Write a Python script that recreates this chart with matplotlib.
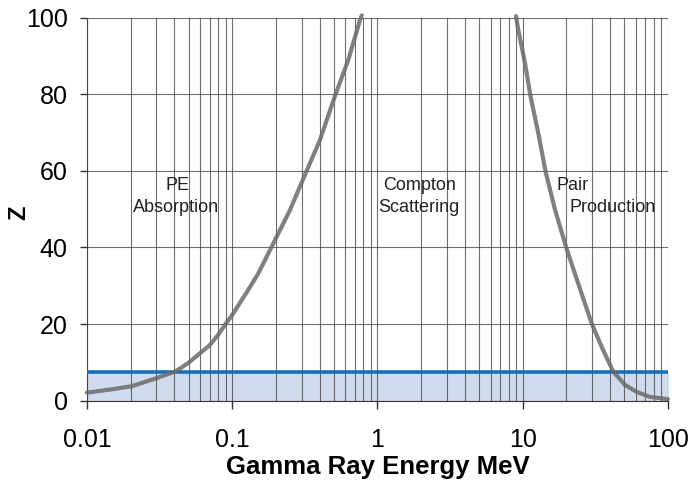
import matplotlib
matplotlib.use("Agg")
import matplotlib.pyplot as plt
from matplotlib.ticker import FixedLocator, FixedFormatter, LogLocator, NullFormatter

plt.rcParams['font.family'] = ['Liberation Sans', 'DejaVu Sans']

# photoelectric / Compton boundary
pe_energy = [0.01, 0.015, 0.0204, 0.0302, 0.0403, 0.0437, 0.05, 0.06, 0.07, 0.08, 0.09,
             0.1, 0.1258, 0.151, 0.192, 0.25, 0.322, 0.402, 0.51, 0.63, 0.758, 0.78]
pe_z = [2.1, 3.0, 3.8, 5.9, 7.6, 8.4, 9.9, 12.4, 14.5, 17.2, 20.0,
        22.4, 28.3, 33.2, 41.1, 49.8, 59.6, 68.1, 79.6, 89.0, 99.4, 100.6]

# Compton / pair production boundary
pair_energy = [8.99, 9.32, 10.37, 11.3, 12.8, 14.4, 16.7, 20.0, 22.3, 29.8, 34.9,
               42.0, 50.6, 60.9, 75.2, 100]
pair_z = [100.4, 96.8, 88.1, 79.6, 69.8, 59.6, 49.8, 39.8, 34.4, 20.2, 14.1,
          7.6, 4.1, 2.3, 1.0, 0.4]

water_z = 7.4
x_range = [0.01, 100]

tick_vals = [0.01, 0.1, 1, 10, 100]
tick_text = ['0.01', '0.1', '1', '10', '100']

labels = [
    (0.0423, 56.3, 'PE', 'center'),
    (0.041, 50.5, 'Absorption', 'center'),
    (1.96, 56.3, 'Compton', 'center'),
    (1.93, 50.5, 'Scattering', 'center'),
    (17.2, 56.3, 'Pair', 'left'),
    (21.1, 50.5, 'Production', 'left'),
]

fig = plt.figure(figsize=(6.92, 4.83), dpi=100)
ax = fig.add_axes([0.1257, 0.1704, 0.9653 - 0.1257, 0.9634 - 0.1704])

ax.fill_between(x_range, 0, water_z, color='#d0dcee', zorder=1)
ax.plot(x_range, [water_z, water_z], color='#1a6fbd', lw=2.6, zorder=3)
for xs, ys in [(pe_energy, pe_z), (pair_energy, pair_z)]:
    ax.plot(xs, ys, color='#6a6a6a', lw=3, alpha=0.85, zorder=4, clip_on=False,
            solid_joinstyle='round', solid_capstyle='round')

ax.set_xscale('log')
ax.set_xlim(x_range)
ax.set_ylim(0, 100)

ax.xaxis.set_major_locator(FixedLocator(tick_vals))
ax.xaxis.set_major_formatter(FixedFormatter(tick_text))
ax.xaxis.set_minor_locator(LogLocator(base=10, subs=range(2, 10)))
ax.xaxis.set_minor_formatter(NullFormatter())
ax.set_yticks(range(0, 101, 20))

ax.grid(True, which='both', axis='x', color='#4a4a4a', lw=0.8, alpha=0.8, zorder=2)
ax.grid(True, which='major', axis='y', color='#4a4a4a', lw=0.8, alpha=0.8, zorder=2)
ax.set_axisbelow(False)

ax.spines['top'].set_visible(False)
ax.spines['right'].set_visible(False)
ax.spines['left'].set_color('#333333')
ax.spines['bottom'].set_color('#333333')
ax.tick_params(axis='both', which='major', direction='out', width=1,
               color='#333333', labelsize=18)
ax.tick_params(axis='x', which='minor', length=0)
ax.tick_params(axis='x', which='major', length=6, pad=14)
ax.tick_params(axis='y', which='major', length=5, pad=9)

for x, y, s, ha in labels:
    ax.text(x, y, s, fontsize=13, ha=ha, va='center', color='#222222', zorder=5)

ax.set_xlabel('Gamma Ray Energy MeV', fontsize=18.5, fontweight='bold', labelpad=2)
ax.set_ylabel('Z', fontsize=17, fontweight='bold')
ax.yaxis.set_label_coords(-0.097, 0.49)

fig.savefig('out.png', dpi=100)
